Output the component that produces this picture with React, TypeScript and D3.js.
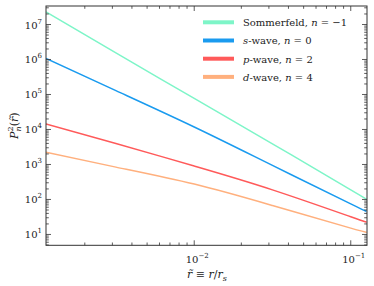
import React from "react";
import * as d3 from "d3";

// sample points along r~
const rValues = [0.00113, 0.00316, 0.01, 0.0316, 0.1, 0.127];

const sommerfeld = [2.28e7, 1.55e6, 7.7e4, 3.9e3, 187, 101];
const sWave = [1.08e6, 1.29e5, 1.18e4, 942, 75, 45];
const pWave = [1.44e4, 4.0e3, 900, 188, 32, 22.3];
const dWave = [2.23e3, 840, 275, 67, 15.2, 11.6];

const seriesNames = ["Sommerfeld", "s", "p", "d"];
const seriesN = ["\u22121", "0", "2", "4"];
const seriesColors = ["#7ef5c8", "#1a9bef", "#ff5a5a", "#ffb07e"];

const yMajorExps = [1, 2, 3, 4, 5, 6, 7];
const xMajorExps = [-2, -1];

const serif = "DejaVu Serif";

const App: React.FC = () => {
  const width = 374;
  const height = 286;
  const margin = { top: 6, right: 7, bottom: 40.7, left: 46 };

  const x = d3
    .scaleLog()
    .domain([0.00113, 0.127])
    .range([margin.left, width - margin.right]);
  const y = d3
    .scaleLog()
    .domain([4.9, 3.38e7])
    .range([height - margin.bottom, margin.top]);

  const line = d3
    .line<number>()
    .x((_, i) => x(rValues[i]))
    .y((d) => y(d))
    .curve(d3.curveNatural);

  const allSeries = [sommerfeld, sWave, pWave, dWave];

  const x0 = margin.left;
  const x1 = width - margin.right;
  const y0 = height - margin.bottom;
  const y1 = margin.top;

  // minor ticks
  const yMinor: number[] = [];
  for (let e = 0; e <= 7; e++) {
    for (let m = 2; m <= 9; m++) {
      const v = m * Math.pow(10, e);
      if (v > 4.9 && v < 3.38e7) yMinor.push(v);
    }
  }
  const xMinor: number[] = [];
  for (let e = -3; e <= -1; e++) {
    for (let m = 2; m <= 9; m++) {
      const v = m * Math.pow(10, e);
      if (v > 0.00113 && v < 0.127) xMinor.push(v);
    }
  }

  const axisColor = "#333";

  return (
    <svg
      width={width}
      height={height}
      style={{ position: "absolute", left: 0, top: 0, background: "#fff" }}
    >
      <defs>
        <clipPath id="plot">
          <rect x={x0} y={y1} width={x1 - x0} height={y0 - y1} />
        </clipPath>
      </defs>

      {/* curves */}
      <g clipPath="url(#plot)">
        {allSeries.map((s, i) => (
          <path
            key={i}
            d={line(s) ?? ""}
            fill="none"
            stroke={seriesColors[i]}
            strokeWidth={1.5}
          />
        ))}
      </g>

      {/* ticks, inward on all sides */}
      <g stroke={axisColor} strokeWidth={0.8}>
        {yMajorExps.map((e) => {
          const yy = y(Math.pow(10, e));
          return (
            <g key={"ym" + e}>
              <line x1={x0} x2={x0 + 5} y1={yy} y2={yy} />
              <line x1={x1} x2={x1 - 5} y1={yy} y2={yy} />
            </g>
          );
        })}
        {yMinor.map((v, i) => {
          const yy = y(v);
          return (
            <g key={"yn" + i}>
              <line x1={x0} x2={x0 + 2.8} y1={yy} y2={yy} />
              <line x1={x1} x2={x1 - 2.8} y1={yy} y2={yy} />
            </g>
          );
        })}
        {xMajorExps.map((e) => {
          const xx = x(Math.pow(10, e));
          return (
            <g key={"xm" + e}>
              <line x1={xx} x2={xx} y1={y0} y2={y0 - 5} />
              <line x1={xx} x2={xx} y1={y1} y2={y1 + 5} />
            </g>
          );
        })}
        {xMinor.map((v, i) => {
          const xx = x(v);
          return (
            <g key={"xn" + i}>
              <line x1={xx} x2={xx} y1={y0} y2={y0 - 2.8} />
              <line x1={xx} x2={xx} y1={y1} y2={y1 + 2.8} />
            </g>
          );
        })}
      </g>

      {/* frame */}
      <rect
        x={x0}
        y={y1}
        width={x1 - x0}
        height={y0 - y1}
        fill="none"
        stroke={axisColor}
        strokeWidth={1}
      />

      {/* y tick labels */}
      {yMajorExps.map((e) => (
        <text
          key={"yl" + e}
          x={x0 - 4}
          y={y(Math.pow(10, e)) + 4}
          fontFamily={serif}
          fontSize={10}
          textAnchor="end"
          fill="#222"
        >
          10
          <tspan dy={-5} fontSize={7}>
            {e}
          </tspan>
        </text>
      ))}

      {/* x tick labels */}
      {xMajorExps.map((e) => (
        <text
          key={"xl" + e}
          x={x(Math.pow(10, e)) + 3}
          y={y0 + 18}
          fontFamily={serif}
          fontSize={10}
          textAnchor="middle"
          fill="#222"
        >
          10
          <tspan dy={-5} fontSize={7}>
            {"\u2212" + Math.abs(e)}
          </tspan>
        </text>
      ))}

      {/* axis labels */}
      <text
        x={207}
        y={y0 + 33}
        fontFamily={serif}
        fontSize={11}
        textAnchor="middle"
        fill="#222"
      >
        <tspan fontStyle="italic">{"r\u0303"}</tspan>
        <tspan> ≡ </tspan>
        <tspan fontStyle="italic">r</tspan>
        <tspan>/</tspan>
        <tspan fontStyle="italic">r</tspan>
        <tspan fontStyle="italic" fontSize={8} dy={2.5}>
          s
        </tspan>
      </text>

      <text
        transform={`translate(18,${(y0 + y1) / 2}) rotate(-90)`}
        fontFamily={serif}
        fontSize={11}
        textAnchor="middle"
        fill="#222"
      >
        <tspan fontStyle="italic">P</tspan>
        <tspan fontSize={8} dy={-5}>
          2
        </tspan>
        <tspan fontSize={8} fontStyle="italic" dx={-5} dy={8}>
          n
        </tspan>
        <tspan dy={-3}>(</tspan>
        <tspan fontStyle="italic">{"r\u0303"}</tspan>
        <tspan>)</tspan>
      </text>

      {/* legend */}
      {seriesNames.map((name, i) => {
        const ly = 22.3 + i * 18.2;
        return (
          <g key={"lg" + i}>
            <line
              x1={203}
              x2={234}
              y1={ly}
              y2={ly}
              stroke={seriesColors[i]}
              strokeWidth={4}
            />
            <text
              x={243}
              y={ly + 3.8}
              fontFamily={serif}
              fontSize={10}
              fill="#222"
            >
              {i === 0 ? (
                <tspan>{name}, </tspan>
              ) : (
                <>
                  <tspan fontStyle="italic">{name}</tspan>
                  <tspan>-wave, </tspan>
                </>
              )}
              <tspan fontStyle="italic">n</tspan>
              <tspan>{" = " + seriesN[i]}</tspan>
            </text>
          </g>
        );
      })}
    </svg>
  );
};

export default App;
